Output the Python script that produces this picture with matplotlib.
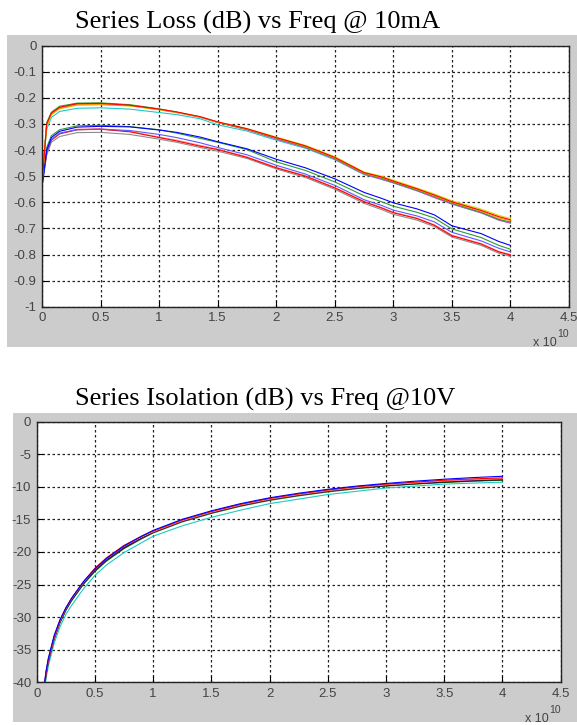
import numpy as np
import matplotlib
matplotlib.use("Agg")
import matplotlib.pyplot as plt
from matplotlib.patches import Rectangle

# ==========================================
# Data (frequency in units of 1e10 Hz)
# ==========================================

loss_freq = [0.0, 0.04, 0.08, 0.15, 0.3, 0.5, 0.75, 1.0, 1.15, 1.35, 1.5, 1.75,
             2.0, 2.25, 2.5, 2.75, 2.9, 3.0, 3.2, 3.35, 3.5, 3.75, 3.9, 4.0]

# upper group
loss_red = [-0.53, -0.30, -0.258, -0.236, -0.222, -0.221, -0.228, -0.243, -0.254, -0.272, -0.292, -0.318,
            -0.352, -0.384, -0.428, -0.486, -0.503, -0.519, -0.548, -0.572, -0.598, -0.631, -0.655, -0.667]
loss_magenta = [-0.52, -0.30, -0.26, -0.238, -0.224, -0.222, -0.229, -0.244, -0.256, -0.274, -0.294, -0.322,
                -0.358, -0.390, -0.434, -0.492, -0.512, -0.525, -0.555, -0.582, -0.606, -0.640, -0.668, -0.680]
loss_yellow = [-0.52, -0.31, -0.265, -0.242, -0.228, -0.226, -0.231, -0.245, -0.256, -0.272, -0.293, -0.318,
               -0.350, -0.382, -0.425, -0.484, -0.500, -0.515, -0.545, -0.568, -0.594, -0.626, -0.650, -0.662]
loss_orange = [-0.53, -0.305, -0.262, -0.240, -0.226, -0.225, -0.230, -0.245, -0.255, -0.273, -0.292, -0.319,
               -0.353, -0.386, -0.430, -0.488, -0.505, -0.520, -0.550, -0.575, -0.600, -0.634, -0.660, -0.670]
loss_green = [-0.52, -0.295, -0.255, -0.232, -0.220, -0.219, -0.226, -0.242, -0.254, -0.273, -0.294, -0.321,
              -0.355, -0.388, -0.432, -0.490, -0.508, -0.523, -0.553, -0.578, -0.603, -0.638, -0.665, -0.676]
loss_cyan = [-0.50, -0.32, -0.275, -0.252, -0.240, -0.238, -0.243, -0.256, -0.264, -0.280, -0.303, -0.327,
             -0.362, -0.393, -0.437, -0.494, -0.512, -0.526, -0.556, -0.580, -0.607, -0.641, -0.668, -0.679]

# lower group
loss_green2 = [-0.53, -0.39, -0.345, -0.322, -0.307, -0.305, -0.310, -0.322, -0.335, -0.355, -0.370, -0.398,
               -0.445, -0.478, -0.522, -0.575, -0.598, -0.615, -0.638, -0.660, -0.702, -0.735, -0.765, -0.780]
loss_blue = [-0.54, -0.40, -0.352, -0.328, -0.312, -0.309, -0.311, -0.323, -0.332, -0.350, -0.368, -0.395,
             -0.435, -0.468, -0.510, -0.562, -0.585, -0.602, -0.625, -0.648, -0.690, -0.720, -0.750, -0.765]
loss_lblue = [-0.54, -0.41, -0.36, -0.335, -0.322, -0.320, -0.325, -0.340, -0.352, -0.372, -0.390, -0.418,
              -0.458, -0.492, -0.535, -0.590, -0.612, -0.630, -0.652, -0.675, -0.715, -0.748, -0.776, -0.790]
loss_red2 = [-0.53, -0.41, -0.362, -0.338, -0.322, -0.320, -0.330, -0.352, -0.365, -0.385, -0.398, -0.428,
             -0.468, -0.500, -0.545, -0.598, -0.622, -0.640, -0.662, -0.688, -0.728, -0.760, -0.790, -0.802]
loss_pink = [-0.53, -0.41, -0.36, -0.336, -0.320, -0.318, -0.328, -0.350, -0.362, -0.382, -0.396, -0.426,
             -0.466, -0.498, -0.543, -0.596, -0.620, -0.638, -0.660, -0.686, -0.726, -0.758, -0.788, -0.800]
loss_gray = [-0.54, -0.42, -0.37, -0.348, -0.333, -0.332, -0.340, -0.358, -0.370, -0.390, -0.404, -0.432,
             -0.472, -0.505, -0.550, -0.604, -0.628, -0.646, -0.668, -0.693, -0.733, -0.765, -0.795, -0.807]

iso_freq = [0.05, 0.08, 0.1, 0.15, 0.2, 0.25, 0.3, 0.4, 0.5, 0.6, 0.75, 0.9, 1.0,
            1.25, 1.5, 1.75, 2.0, 2.25, 2.5, 2.75, 3.0, 3.25, 3.5, 3.75, 4.0]

iso_cyan = [-43.8, -39.5, -37.5, -34.0, -31.5, -29.6, -28.2, -25.7, -23.6, -22.0, -20.1, -18.6, -17.6,
            -16.0, -14.7, -13.6, -12.6, -11.9, -11.2, -10.7, -10.2, -9.9, -9.6, -9.45, -9.3]
iso_green = [-43.2, -38.9, -36.9, -33.4, -30.9, -29.0, -27.5, -25.0, -23.0, -21.4, -19.5, -18.0, -17.1,
             -15.4, -14.1, -13.0, -12.1, -11.4, -10.8, -10.3, -9.9, -9.6, -9.35, -9.15, -9.0]
iso_magenta = [-43.0, -38.7, -36.7, -33.2, -30.7, -28.8, -27.3, -24.8, -22.8, -21.2, -19.3, -17.9, -17.0,
               -15.3, -14.0, -12.9, -12.0, -11.3, -10.7, -10.2, -9.8, -9.5, -9.2, -9.0, -8.85]
iso_black = [-43.0, -38.8, -36.8, -33.3, -30.8, -28.9, -27.4, -24.9, -22.9, -21.3, -19.4, -17.9, -17.0,
             -15.3, -14.0, -12.9, -12.0, -11.3, -10.7, -10.2, -9.85, -9.55, -9.3, -9.1, -8.95]
iso_pink = [-42.9, -38.6, -36.6, -33.1, -30.6, -28.7, -27.2, -24.7, -22.6, -21.0, -19.1, -17.7, -16.9,
            -15.2, -13.9, -12.8, -11.9, -11.2, -10.6, -10.1, -9.7, -9.4, -9.1, -8.9, -8.75]
iso_red = [-42.8, -38.5, -36.5, -33.0, -30.5, -28.6, -27.1, -24.6, -22.5, -20.9, -19.0, -17.6, -16.8,
           -15.1, -13.8, -12.7, -11.8, -11.1, -10.5, -10.0, -9.6, -9.3, -9.0, -8.8, -8.65]
iso_blue = [-42.5, -38.3, -36.3, -32.8, -30.4, -28.6, -27.1, -24.6, -22.6, -21.0, -19.1, -17.6, -16.7,
            -15.0, -13.7, -12.6, -11.7, -11.0, -10.4, -9.9, -9.5, -9.15, -8.85, -8.6, -8.4]

x_ticks = [0, 0.5, 1, 1.5, 2, 2.5, 3, 3.5, 4, 4.5]
x_labels = ["0", "0.5", "1", "1.5", "2", "2.5", "3", "3.5", "4", "4.5"]
loss_ticks = [0, -0.1, -0.2, -0.3, -0.4, -0.5, -0.6, -0.7, -0.8, -0.9, -1]
loss_labels = ["0", "-0.1", "-0.2", "-0.3", "-0.4", "-0.5", "-0.6", "-0.7", "-0.8", "-0.9", "-1"]
iso_ticks = [0, -5, -10, -15, -20, -25, -30, -35, -40]
iso_labels = ["0", "-5", "-10", "-15", "-20", "-25", "-30", "-35", "-40"]

loss_series = [
    (loss_gray, "#8c8c8c"), (loss_pink, "#ff8c8c"), (loss_red2, "#ff0000"),
    (loss_lblue, "#5a5aff"), (loss_green2, "#2e9a2e"), (loss_blue, "#0000ff"),
    (loss_cyan, "#20c8c8"), (loss_magenta, "#e040e0"), (loss_green, "#2e9a2e"),
    (loss_yellow, "#d8d800"), (loss_orange, "#ff9900"), (loss_red, "#ff0000"),
]
iso_series = [
    (iso_cyan, "#20c8c8"), (iso_green, "#008000"), (iso_magenta, "#cc00cc"),
    (iso_black, "#202020"), (iso_pink, "#ff9090"), (iso_red, "#ff0000"),
    (iso_blue, "#0000ff"),
]

# ==========================================
# Figure
# ==========================================

W, H = 577, 725
fig = plt.figure(figsize=(W / 100, H / 100), dpi=100)
fig.patch.set_facecolor("white")

tick_font = ["Liberation Sans Narrow", "Liberation Sans", "DejaVu Sans"]
title_font = ["Liberation Serif", "DejaVu Serif"]


def px_rect(x0, y0, x1, y1):
    # pixel box (top-left origin) -> figure fraction [l, b, w, h]
    return [x0 / W, 1 - y1 / H, (x1 - x0) / W, (y1 - y0) / H]


def gray_panel(x0, y0, x1, y1):
    l, b, w, h = px_rect(x0, y0, x1, y1)
    fig.patches.append(Rectangle((l, b), w, h, transform=fig.transFigure,
                                 facecolor="#cccccc", edgecolor="none", zorder=-5))


def style_axes(ax, yticks, ylabels, ylim):
    ax.set_zorder(2)
    ax.set_xlim(0, 4.5)
    ax.set_ylim(*ylim)
    ax.set_xticks(x_ticks)
    ax.set_xticklabels(x_labels)
    ax.set_yticks(yticks)
    ax.set_yticklabels(ylabels)
    ax.grid(True, color="#222222", linestyle=(0, (2, 2)), linewidth=0.9)
    ax.tick_params(direction="in", length=4, width=0.8, colors="black",
                   labelcolor="#444444", labelsize=9.5, pad=4)
    for lab in ax.get_xticklabels() + ax.get_yticklabels():
        lab.set_family(tick_font)
    for sp in ax.spines.values():
        sp.set_color("#222222")
        sp.set_linewidth(1.0)
    ax.set_facecolor("white")


# ==========================================
# 1. Series Loss
# ==========================================

gray_panel(7, 35, 577, 347)
ax1 = fig.add_axes(px_rect(42, 45.7, 569, 306.7))
for vals, col in loss_series:
    ax1.plot(loss_freq, vals, color=col, linewidth=0.8)
style_axes(ax1, loss_ticks, loss_labels, (-1, 0))
fig.text(75 / W, 1 - 28.5 / H, "Series Loss (dB) vs Freq @ 10mA",
         family=title_font, fontsize=19, ha="left", va="baseline")
fig.text(533 / W, 1 - 346 / H, "x 10", family=tick_font, fontsize=9,
         color="#444444", ha="left", va="baseline")
fig.text(557 / W, 1 - 337 / H, "10", family=tick_font, fontsize=7.5,
         color="#444444", ha="left", va="baseline")

# ==========================================
# 2. Series Isolation
# ==========================================

gray_panel(12.7, 412.7, 577, 722)
ax2 = fig.add_axes(px_rect(36.7, 421.5, 560.7, 682.3))
for vals, col in iso_series:
    ax2.plot(iso_freq, vals, color=col, linewidth=0.8)
style_axes(ax2, iso_ticks, iso_labels, (-40, 0))
fig.text(75 / W, 1 - 406 / H, "Series Isolation (dB) vs Freq @10V",
         family=title_font, fontsize=19, ha="left", va="baseline")
fig.text(525 / W, 1 - 722 / H, "x 10", family=tick_font, fontsize=9,
         color="#444444", ha="left", va="baseline")
fig.text(549 / W, 1 - 713 / H, "10", family=tick_font, fontsize=7.5,
         color="#444444", ha="left", va="baseline")

plt.savefig("out.png", dpi=100)
plt.close()
